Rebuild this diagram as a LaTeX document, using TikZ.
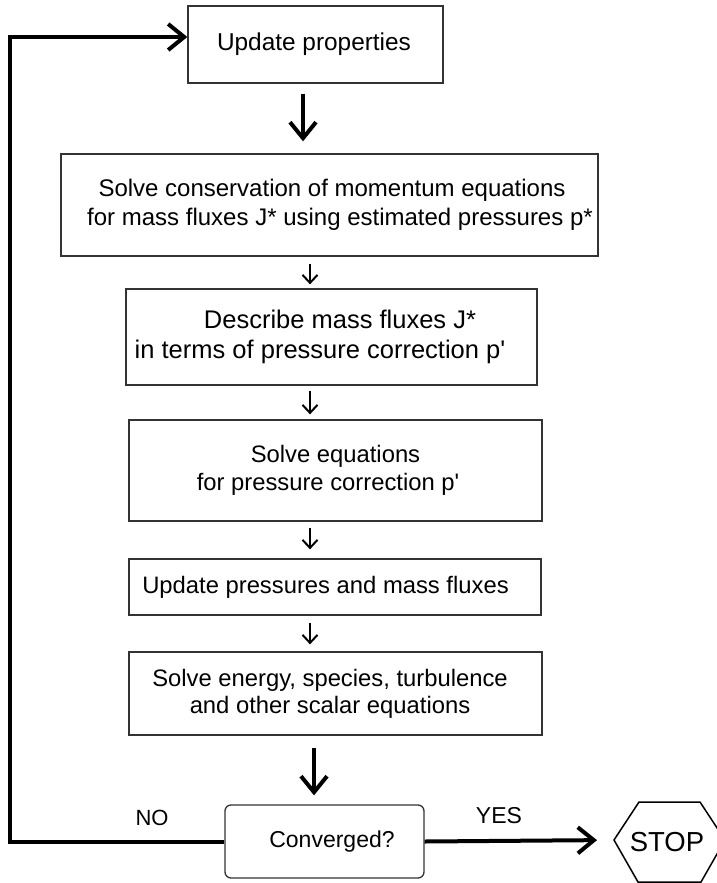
\documentclass[tikz,border=0pt]{standalone}
\usepackage{fontspec}
\setmainfont{Liberation Sans}[Ligatures=TeXOff]
\usetikzlibrary{arrows.meta}
\tikzset{
  boxnode/.style={draw=black!80, line width=1.3pt, rectangle, align=center, inner sep=0pt},
  thickarrow/.style={line width=4pt, line join=miter, -{Straight Barb[length=16pt,width=26pt,line width=4pt]}},
  thinarrow/.style={line width=2pt, -{Straight Barb[length=8pt,width=15pt,line width=2pt]}},
  lbl/.style={font=\fontsize{22}{26}\selectfont, inner sep=0pt}
}
\begin{document}
\begin{tikzpicture}[x=1pt,y=-1pt]
\useasboundingbox (0,0) rectangle (717,883);
\fill[white] (0,0) rectangle (717,883);

\node[boxnode, minimum width=255pt, minimum height=77pt, font=\fontsize{24.4}{28}\selectfont] (u) at (315.5,44.5) {Update properties\hspace*{3pt}};
\node[boxnode, minimum width=537pt, minimum height=102pt, font=\fontsize{24}{29}\selectfont] (s1) at (329.5,205) {\hspace*{5pt}Solve conservation of momentum equations\\\hspace*{21pt}for mass fluxes J* using estimated pressures p*};
\node[boxnode, minimum width=411pt, minimum height=96pt, font=\fontsize{25.5}{30}\selectfont] (d) at (331.5,337) {\hspace*{17pt}Describe mass fluxes J*\\in terms of pressure correction p'\hspace*{23pt}};
\node[boxnode, minimum width=413pt, minimum height=101pt, font=\fontsize{23.8}{28}\selectfont] (s2) at (335.5,470.5) {Solve equations\\for pressure correction p'\hspace*{15pt}};
\node[boxnode, minimum width=412pt, minimum height=56pt, font=\fontsize{23.8}{28}\selectfont] (up) at (335,587) {Update pressures and mass fluxes\hspace*{19pt}};
\node[boxnode, minimum width=413pt, minimum height=83pt, font=\fontsize{23.8}{27}\selectfont] (s3) at (335.5,693.5) {Solve energy, species, turbulence\hspace*{11pt}\\and other scalar equations\hspace*{11pt}};
\node[boxnode, rounded corners=6pt, minimum width=199pt, minimum height=73pt, font=\fontsize{23}{28}\selectfont] (c) at (324.5,841.5) {\hspace*{15pt}Converged?};

% STOP hexagon
\draw[line width=1.5pt, line join=miter] (614,840) -- (639,802) -- (700,802) -- (725,840) -- (701,882) -- (638,882) -- cycle;
\coordinate (hexw) at (614,840);
\node[inner sep=0pt, font=\fontsize{27.5}{30}\selectfont] (stop) at (667,842) {STOP};

% connector columns
\coordinate (xa) at (303,0);
\coordinate (xb) at (310,0);
\coordinate (xc) at (314,0);
\coordinate (lt) at (10,37);
\coordinate (lb) at (10,841.5);

\draw[thickarrow, shorten <=10pt, shorten >=12pt] (u.south -| xa) -- (s1.north -| xa);
\draw[thinarrow, shorten <=7pt, shorten >=4pt] (s1.south -| xb) -- (d.north -| xb);
\draw[thinarrow, shorten <=5pt, shorten >=5pt] (d.south -| xb) -- (s2.north -| xb);
\draw[thinarrow, shorten <=6pt, shorten >=9pt] (s2.south -| xb) -- (up.north -| xb);
\draw[thinarrow, shorten <=7pt, shorten >=7pt] (up.south -| xb) -- (s3.north -| xb);
\draw[thickarrow, shorten <=12pt, shorten >=9pt] (s3.south -| xc) -- (c.north -| xc);

% loop back
\draw[thickarrow] (c.west) -- (lb) -- (lt) -- (lt -| u.west);
\draw[thickarrow, shorten >=17pt] (c.east) -- (hexw);

\node[lbl] (no) at (152,818) {NO};
\node[lbl, font=\fontsize{23}{26}\selectfont] (yes) at (499,816) {YES};
\end{tikzpicture}
\end{document}
